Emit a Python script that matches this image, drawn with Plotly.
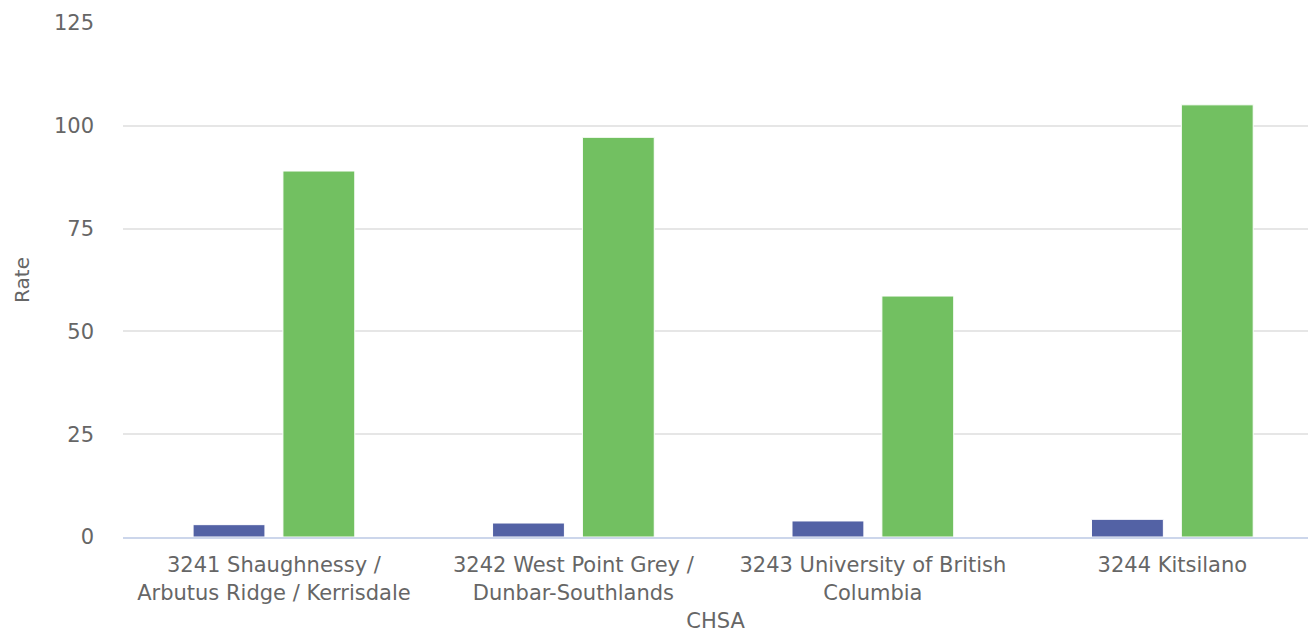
import plotly.graph_objects as go

# valeurs
CATEGORIES = [
    "3241 Shaughnessy /<br>Arbutus Ridge / Kerrisdale",
    "3242 West Point Grey /<br>Dunbar-Southlands",
    "3243 University of British<br>Columbia",
    "3244 Kitsilano",
]
SERIES_A = [3.0, 3.4, 3.9, 4.3]
SERIES_B = [89.0, 97.2, 58.6, 105.1]
Y_TICKS = [0, 25, 50, 75, 100, 125]

BLUE = "#5362a5"
GREEN = "#72c061"
TEXT = "#666666"
GRID = "#e6e6e6"

fig = go.Figure()
fig.add_trace(go.Bar(
    x=CATEGORIES, y=SERIES_A, name="Series 1",
    marker=dict(color=BLUE, line=dict(color="white", width=1)),
))
fig.add_trace(go.Bar(
    x=CATEGORIES, y=SERIES_B, name="Series 2",
    marker=dict(color=GREEN, line=dict(color="white", width=1)),
))

# la page ajoute 8px de marge : zone de tracé coupée à droite, on étire l'axe x
fig.update_layout(
    autosize=False, width=1300, height=625,
    font=dict(family="DejaVu Sans", size=21, color=TEXT),
    plot_bgcolor="white", paper_bgcolor="white",
    showlegend=False,
    barmode="group", bargap=0.4, bargroupgap=0.2,
    margin=dict(l=115, r=0, t=15, b=96),
    xaxis=dict(
        range=[-0.504, 3.453],
        showgrid=False, showline=True, linecolor="#ccd6eb", linewidth=2,
        ticks="", tickfont=dict(size=21, color=TEXT), ticklabelstandoff=8,
        title=dict(text="CHSA", font=dict(size=21, color=TEXT), standoff=10),
    ),
    yaxis=dict(
        range=[0, 125], tickvals=Y_TICKS, showgrid=True, gridcolor=GRID, gridwidth=2,
        zeroline=False, showline=False, ticks="",
        tickfont=dict(size=21, color=TEXT), ticklabelstandoff=28,
        title=dict(text="Rate", font=dict(size=20, color=TEXT), standoff=18),
    ),
)

fig.write_html("out.html")
